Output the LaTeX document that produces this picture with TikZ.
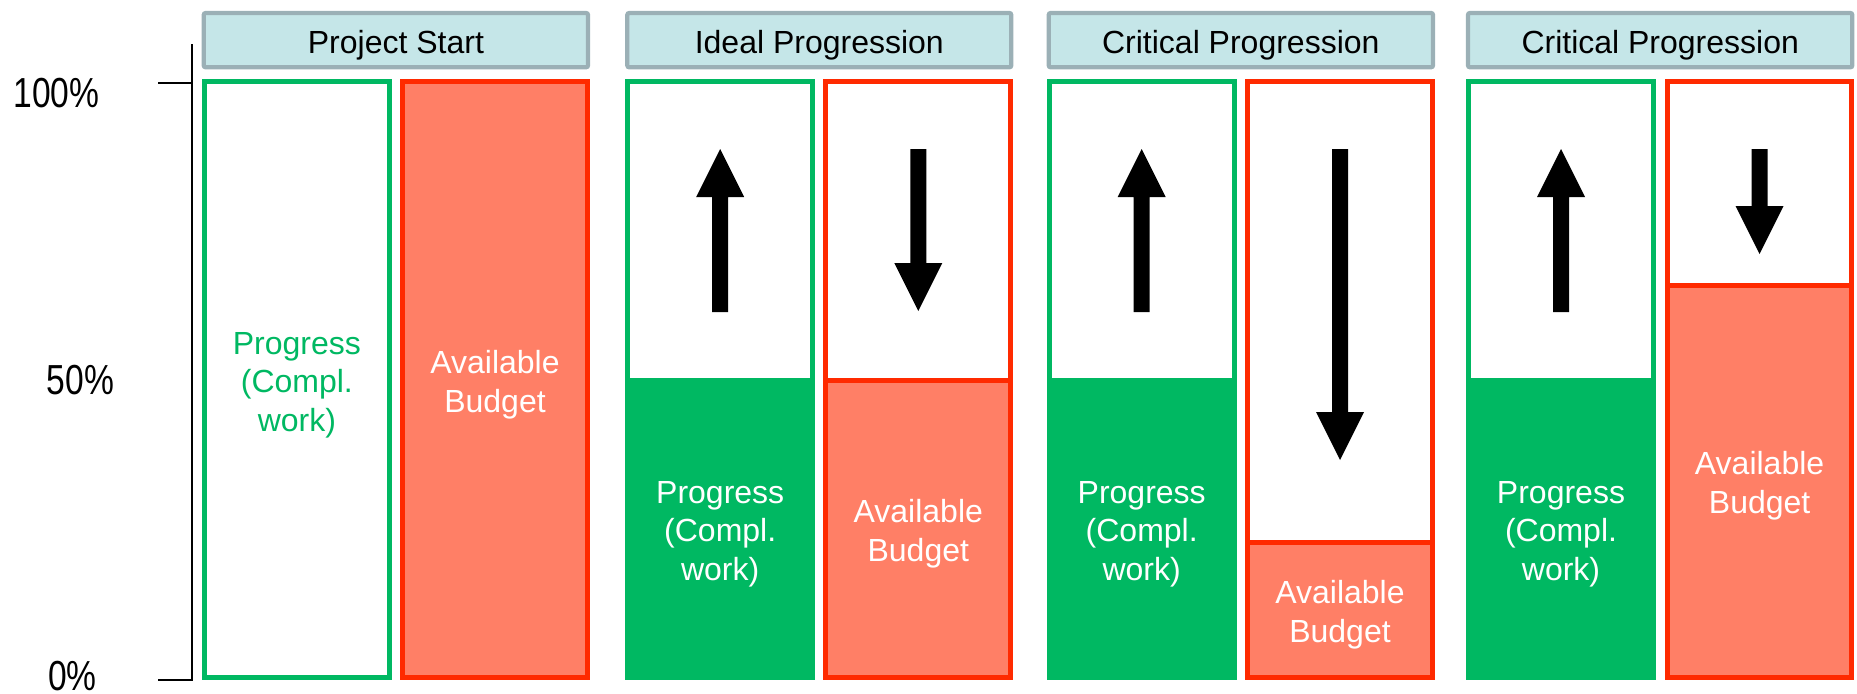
\documentclass[tikz,border=0pt]{standalone}
\usepackage{fontspec}
\setmainfont{Liberation Sans}
\newfontfamily\narrowfont[FakeStretch=0.8]{Liberation Sans}
\usepackage{tikz}

\definecolor{progGreen}{RGB}{0,184,98}
\definecolor{budgetRed}{RGB}{255,42,0}
\definecolor{budgetFill}{RGB}{255,127,102}
\definecolor{headFill}{RGB}{197,230,232}
\definecolor{headLine}{RGB}{155,176,182}

\begin{document}
\begin{tikzpicture}[x=0.75pt,y=0.75pt,yscale=-1,xscale=1,
  headbox/.style={draw=headLine,fill=headFill,line width=3.2pt,rounded corners=1.5pt},
  progbar/.style={draw=progGreen,line width=3.75pt},
  budgetbar/.style={draw=budgetRed,line width=3.75pt},
  headtext/.style={anchor=base,inner sep=0.75pt,font=\fontsize{24}{29}\selectfont},
  bartext/.style={align=center,inner sep=0.75pt,text=white,font=\fontsize{24}{29}\selectfont},
  pcttext/.style={anchor=base,inner sep=0pt,font=\narrowfont\fontsize{31.5}{36}\selectfont}]
  \useasboundingbox (0,0) rectangle (1857,693);

  %Shape: Axis with ticks
  \draw [line width=1.3pt] (158,83) -- (192,83) (192,44) -- (192,680) -- (158,680) ;
  % Text Node
  \node [pcttext] (pct100) at (56.5,107) {100\%};
  % Text Node
  \node [pcttext] (pct50) at (80.5,394) {50\%};
  % Text Node
  \node [pcttext] (pct0) at (72.5,690) {0\%};

  %Shape: Header rectangles
  \draw [headbox] (203.7,13) rectangle (588,67.3) ;
  \draw [headbox] (627.3,13) rectangle (1011.3,67.3) ;
  \draw [headbox] (1048.7,13) rectangle (1433,67.3) ;
  \draw [headbox] (1468,13) rectangle (1852.3,67.3) ;
  % Text Node
  \node [headtext] (startHead) at (395.9,53.3) {Project Start};
  % Text Node
  \node [headtext] (idealHead) at (819.3,53.3) {Ideal Progression};
  % Text Node
  \node [headtext] (critHeadA) at (1240.8,53.3) {Critical Progression};
  % Text Node
  \node [headtext] (critHeadB) at (1660.2,53.3) {Critical Progression};

  %Shape: Project start bars
  \draw [progbar] (204.5,81.5) rectangle (389.2,677.5) ;
  \draw [budgetbar,fill=budgetFill] (402.5,81.5) rectangle (587.5,677.5) ;
  % Text Node
  \node [bartext,text=progGreen] (startProg) at (296.9,385) {Progress\\(Compl.\\work)};
  % Text Node
  \node [bartext] (startBudget) at (495,385) {Available\\Budget};

  %Shape: Ideal progression bars
  \draw [progbar] (627.8,81.5) rectangle (812.5,677.5) ;
  \fill [progGreen] (625.3,377.5) rectangle (815,680) ;
  \draw [budgetbar] (825.8,81.5) rectangle (1010.8,677.5) ;
  \draw [budgetbar,fill=budgetFill] (825.8,380) rectangle (1010.8,677.5) ;
  % Text Node
  \node [bartext] (idealProg) at (720.2,534) {Progress\\(Compl.\\work)};
  % Text Node
  \node [bartext] (idealBudget) at (918.3,534) {Available\\Budget};

  %Shape: First critical progression bars
  \draw [progbar] (1049.2,81.5) rectangle (1234.2,677.5) ;
  \fill [progGreen] (1046.7,377.5) rectangle (1236.7,680) ;
  \draw [budgetbar] (1247.5,81.5) rectangle (1432.5,677.5) ;
  \draw [budgetbar,fill=budgetFill] (1247.5,542.5) rectangle (1432.5,677.5) ;
  % Text Node
  \node [bartext] (critProgA) at (1141.7,534) {Progress\\(Compl.\\work)};
  % Text Node
  \node [bartext] (critBudgetA) at (1340,615) {Available\\Budget};

  %Shape: Second critical progression bars
  \draw [progbar] (1468.5,81.5) rectangle (1653.5,677.5) ;
  \fill [progGreen] (1466,377.5) rectangle (1656,680) ;
  \draw [budgetbar] (1667.5,81.5) rectangle (1851.8,677.5) ;
  \draw [budgetbar,fill=budgetFill] (1667.5,285) rectangle (1851.8,677.5) ;
  % Text Node
  \node [bartext] (critProgB) at (1561,534) {Progress\\(Compl.\\work)};
  % Text Node
  \node [bartext] (critBudgetB) at (1759.6,486) {Available\\Budget};

  %Shape: Block arrows, up
  \fill (720.2,149) -- (744.2,197) -- (728.2,197) -- (728.2,312) -- (712.2,312) -- (712.2,197) -- (696.2,197) -- cycle ;
  \fill (1141.7,149) -- (1165.7,197) -- (1149.7,197) -- (1149.7,312) -- (1133.7,312) -- (1133.7,197) -- (1117.7,197) -- cycle ;
  \fill (1561,149) -- (1585,197) -- (1569,197) -- (1569,312) -- (1553,312) -- (1553,197) -- (1537,197) -- cycle ;
  %Shape: Block arrows, down
  \fill (918.3,311) -- (942.3,263) -- (926.3,263) -- (926.3,149) -- (910.3,149) -- (910.3,263) -- (894.3,263) -- cycle ;
  \fill (1340,460) -- (1364,412) -- (1348,412) -- (1348,149) -- (1332,149) -- (1332,412) -- (1316,412) -- cycle ;
  \fill (1759.6,254) -- (1783.6,206) -- (1767.6,206) -- (1767.6,149) -- (1751.6,149) -- (1751.6,206) -- (1735.6,206) -- cycle ;

\end{tikzpicture}
\end{document}
